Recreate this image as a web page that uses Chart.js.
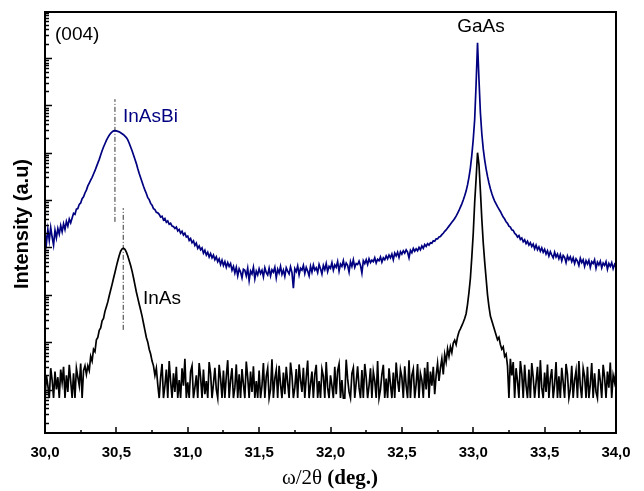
<!DOCTYPE html>
<html lang="en">
  <head>
    <meta charset="UTF-8" />
    <title>XRD (004) omega/2theta scans</title>
    <script src="https://cdn.jsdelivr.net/npm/chart.js"></script>
    <style>
      body { margin: 0; background: #fff; }
      #wrap { width: 644px; height: 491px; }
    </style>
  </head>
  <body>
    <div id="wrap"><canvas id="xrdChart" width="644" height="491"></canvas></div>
    <script>
      // scan grid: omega/2theta from 30.00 to 34.00 deg, 0.01 deg step
      const scanStart = 30.0;
      const scanStep = 0.01;

      // log10(intensity) of the InAs sample (black), one row per 0.1 deg
      const inAsLog = [
        0.82, 1.30, 1.08, 0.82, 1.45, 1.20, 0.82, 1.38, 1.00, 1.26, // 30.0
        0.82, 1.42, 1.15, 1.48, 0.82, 1.30, 0.95, 1.52, 1.18, 0.82,
        1.34, 0.82, 1.45, 1.26, 1.08, 1.55, 0.82, 1.40, 1.50, 1.32,
        1.50, 1.40, 1.70, 1.60, 1.85, 1.80, 2.05, 2.10, 2.25, 2.30,
        2.45, 2.50, 2.65, 2.75, 2.85, 2.98, 3.10, 3.22, 3.35, 3.47,
        3.60, 3.72, 3.83, 3.92, 3.97, 3.985, 3.96, 3.90, 3.82, 3.72, // 30.5
        3.62, 3.50, 3.36, 3.21, 3.06, 2.93, 2.80, 2.68, 2.55, 2.40,
        2.25, 2.10, 2.00, 1.85, 1.75, 1.60, 1.50, 1.30, 1.45, 1.10,
        0.82, 1.26, 1.54, 0.82, 1.08, 1.42, 0.82, 1.60, 1.18, 0.82,
        1.34, 0.95, 1.48, 0.82, 1.20, 0.82, 1.45, 1.08, 1.65, 0.82,
        1.15, 0.82, 1.38, 1.50, 0.82, 1.04, 1.30, 0.82, 1.56, 1.26, // 31.0
        0.82, 1.42, 0.90, 1.18, 0.82, 1.58, 1.34, 0.82, 1.12, 1.46,
        1.00, 0.82, 1.52, 1.23, 0.82, 1.40, 0.82, 1.28, 1.62, 0.82,
        1.20, 1.45, 0.82, 1.04, 1.53, 0.82, 1.32, 0.82, 1.43, 1.11,
        0.82, 1.59, 1.26, 0.82, 1.38, 0.95, 1.49, 0.82, 1.18, 0.82,
        1.40, 0.82, 1.08, 1.56, 0.82, 1.28, 1.45, 0.82, 1.00, 1.64, // 31.5
        0.82, 1.23, 1.41, 0.82, 1.50, 1.11, 0.82, 1.36, 0.90, 1.48,
        1.15, 0.82, 1.57, 1.30, 0.82, 1.04, 1.43, 0.82, 1.53, 1.20,
        0.95, 1.46, 0.82, 1.26, 1.61, 0.82, 1.11, 1.38, 0.82, 1.32,
        1.52, 0.82, 1.18, 0.82, 1.43, 1.28, 0.82, 1.58, 1.04, 0.82,
        1.30, 1.08, 0.82, 1.48, 0.90, 1.40, 1.54, 0.82, 1.20, 0.82, // 32.0
        0.82, 1.63, 1.23, 0.95, 0.82, 1.34, 1.46, 0.82, 1.15, 1.49,
        1.04, 0.82, 1.41, 0.82, 1.54, 1.26, 0.82, 1.08, 1.45, 0.82,
        1.38, 1.18, 0.82, 1.60, 0.82, 1.00, 1.32, 1.52, 0.82, 1.23,
        0.82, 1.45, 1.11, 0.82, 1.36, 0.82, 1.57, 1.20, 0.95, 1.42,
        1.26, 0.82, 1.49, 1.08, 0.82, 1.62, 0.82, 1.30, 1.43, 0.82, // 32.5
        1.11, 1.54, 0.82, 1.34, 1.20, 0.82, 1.46, 1.00, 1.58, 0.82,
        1.38, 1.08, 1.48, 0.90, 1.30, 1.55, 1.18, 1.45, 1.65, 1.32,
        1.74, 1.58, 1.86, 1.70, 1.90, 1.78, 1.98, 2.04, 1.95, 2.11,
        2.22, 2.28, 2.35, 2.42, 2.50, 2.60, 2.80, 3.05, 3.35, 3.80,
        4.30, 4.95, 5.45, 6.00, 5.75, 5.20, 4.60, 4.10, 3.70, 3.35, // 33.0
        3.00, 2.75, 2.55, 2.45, 2.35, 2.25, 2.15, 2.05, 2.10, 1.95,
        1.85, 1.90, 1.70, 1.75, 1.50, 0.82, 1.65, 1.30, 1.58, 0.82,
        1.45, 1.18, 0.82, 1.60, 1.34, 0.82, 1.52, 1.08, 0.82, 1.42,
        0.82, 1.56, 1.26, 0.82, 1.15, 1.48, 0.82, 1.62, 1.04, 0.82,
        1.36, 0.95, 1.53, 0.82, 1.23, 1.43, 0.82, 1.11, 1.58, 0.82, // 33.5
        1.28, 0.82, 1.46, 1.15, 0.82, 1.54, 1.32, 0.82, 1.00, 1.50,
        0.82, 1.20, 1.40, 0.82, 1.60, 1.08, 0.82, 1.45, 1.28, 0.82,
        1.48, 0.82, 1.11, 1.56, 0.82, 1.34, 0.95, 0.82, 1.43, 1.18,
        0.82, 1.52, 1.26, 0.82, 1.38, 1.04, 1.57, 0.82, 1.30, 1.15,
        1.41 // 34.0
      ];

      // log10(intensity) of the InAsBi sample (navy)
      const inAsBiLog = [
        4.30, 4.08, 4.38, 4.15, 4.42, 4.22, 4.05, 4.36, 4.20, 4.40, // 30.0
        4.28, 4.46, 4.33, 4.50, 4.38, 4.55, 4.45, 4.60, 4.52, 4.62,
        4.72, 4.70, 4.81, 4.82, 4.91, 4.94, 5.03, 5.07, 5.15, 5.21,
        5.30, 5.36, 5.42, 5.48, 5.55, 5.62, 5.70, 5.78, 5.86, 5.95,
        6.04, 6.12, 6.19, 6.26, 6.32, 6.37, 6.41, 6.44, 6.46, 6.465,
        6.46, 6.45, 6.44, 6.42, 6.40, 6.38, 6.35, 6.32, 6.27, 6.20, // 30.5
        6.12, 6.04, 5.95, 5.86, 5.77, 5.66, 5.56, 5.47, 5.38, 5.29,
        5.21, 5.14, 5.05, 5.01, 4.93, 4.89, 4.82, 4.80, 4.74, 4.73,
        4.70, 4.64, 4.66, 4.58, 4.61, 4.53, 4.56, 4.49, 4.51, 4.45,
        4.44, 4.40, 4.43, 4.35, 4.38, 4.30, 4.34, 4.26, 4.30, 4.22,
        4.24, 4.15, 4.19, 4.10, 4.14, 4.04, 4.09, 3.98, 4.03, 3.95, // 31.0
        3.99, 3.88, 3.94, 3.84, 3.90, 3.80, 3.87, 3.78, 3.84, 3.74,
        3.80, 3.70, 3.76, 3.64, 3.73, 3.62, 3.70, 3.58, 3.68, 3.60,
        3.66, 3.52, 3.60, 3.46, 3.58, 3.40, 3.55, 3.48, 3.36, 3.54,
        3.52, 3.40, 3.56, 3.30, 3.50, 3.44, 3.58, 3.34, 3.50, 3.42,
        3.55, 3.45, 3.52, 3.38, 3.57, 3.47, 3.42, 3.56, 3.40, 3.53, // 31.5
        3.48, 3.58, 3.36, 3.54, 3.46, 3.60, 3.43, 3.52, 3.39, 3.57,
        3.50, 3.44, 3.59, 3.47, 3.14, 3.55, 3.49, 3.61, 3.42, 3.56,
        3.52, 3.62, 3.45, 3.58, 3.50, 3.40, 3.60, 3.48, 3.63, 3.52,
        3.57, 3.47, 3.64, 3.55, 3.44, 3.62, 3.53, 3.66, 3.49, 3.60,
        3.56, 3.68, 3.52, 3.63, 3.58, 3.70, 3.50, 3.65, 3.60, 3.72, // 32.0
        3.57, 3.67, 3.62, 3.48, 3.70, 3.60, 3.74, 3.58, 3.66, 3.64,
        3.71, 3.62, 3.46, 3.72, 3.66, 3.74, 3.64, 3.76, 3.68, 3.73,
        3.70, 3.78, 3.67, 3.75, 3.72, 3.80, 3.69, 3.78, 3.74, 3.82,
        3.76, 3.84, 3.78, 3.86, 3.74, 3.88, 3.82, 3.90, 3.79, 3.91,
        3.86, 3.93, 3.88, 3.95, 3.90, 3.78, 3.94, 3.89, 3.98, 3.92, // 32.5
        3.97, 3.93, 4.00, 3.95, 4.03, 3.98, 4.06, 4.02, 4.08, 4.05,
        4.10, 4.09, 4.14, 4.13, 4.18, 4.18, 4.22, 4.23, 4.27, 4.30,
        4.34, 4.37, 4.41, 4.45, 4.49, 4.53, 4.57, 4.61, 4.66, 4.72,
        4.78, 4.85, 4.92, 5.00, 5.09, 5.19, 5.32, 5.48, 5.68, 5.95,
        6.28, 6.70, 7.45, 8.32, 7.55, 6.85, 6.40, 6.08, 5.85, 5.66, // 33.0
        5.50, 5.36, 5.24, 5.14, 5.05, 4.98, 4.92, 4.86, 4.81, 4.76,
        4.70, 4.64, 4.60, 4.54, 4.51, 4.45, 4.43, 4.37, 4.36, 4.30,
        4.27, 4.22, 4.25, 4.17, 4.20, 4.12, 4.16, 4.08, 4.13, 4.05,
        4.10, 4.02, 4.07, 3.97, 4.05, 3.95, 4.01, 3.92, 3.99, 3.90,
        3.96, 3.86, 3.93, 3.82, 3.91, 3.84, 3.78, 3.90, 3.80, 3.86, // 33.5
        3.76, 3.85, 3.72, 3.83, 3.79, 3.68, 3.82, 3.74, 3.80, 3.70,
        3.78, 3.66, 3.76, 3.71, 3.62, 3.77, 3.68, 3.74, 3.60, 3.72,
        3.65, 3.73, 3.58, 3.70, 3.66, 3.74, 3.56, 3.69, 3.63, 3.71,
        3.57, 3.67, 3.62, 3.70, 3.54, 3.66, 3.60, 3.68, 3.55, 3.64,
        3.58 // 34.0
      ];

      // peak markers (dash-dot): position in deg, log10 span
      const inAsBiMarkX = 30.49;
      const inAsBiMarkSpan = [4.54, 7.13];
      const inAsMarkX = 30.548;
      const inAsMarkSpan = [2.26, 4.83];

      const xTickLabels = ['30,0', '30,5', '31,0', '31,5', '32,0', '32,5', '33,0', '33,5', '34,0'];

      const navy = '#000080';

      function toPoints(logs) {
        return logs.map((v, i) => ({ x: scanStart + i * scanStep, y: Math.pow(10, v) }));
      }
      function markPoints(x, span) {
        return span.map((v) => ({ x: x, y: Math.pow(10, v) }));
      }

      const decorations = {
        id: 'decorations',
        afterDraw(chart) {
          const { ctx, chartArea: area, scales: { x, y } } = chart;
          ctx.save();
          ctx.strokeStyle = '#000';
          ctx.lineWidth = 1.5;

          // x ticks pointing inward
          for (let i = 0; i <= 16; i++) {
            const px = Math.round(x.getPixelForValue(30 + i * 0.25));
            const len = i % 2 === 0 ? 6 : 3;
            ctx.beginPath();
            ctx.moveTo(px, area.bottom);
            ctx.lineTo(px, area.bottom - len);
            ctx.stroke();
          }

          // log ticks on the left axis
          for (let n = 0; n <= 8; n++) {
            for (let k = 1; k <= 9; k++) {
              const v = k * Math.pow(10, n);
              if (v < y.min || v > y.max) continue;
              const py = Math.round(y.getPixelForValue(v)) + 0.5;
              const len = k === 1 ? 7 : 4;
              ctx.beginPath();
              ctx.moveTo(area.left, py);
              ctx.lineTo(area.left + len, py);
              ctx.stroke();
            }
          }

          ctx.lineWidth = 2;
          ctx.strokeRect(area.left, area.top, area.right - area.left, area.bottom - area.top);

          // labels inside the plot
          ctx.fillStyle = '#000';
          ctx.textBaseline = 'middle';
          ctx.font = '19px "Liberation Sans", Arial, sans-serif';
          ctx.textAlign = 'left';
          ctx.fillText('(004)', 55, 35);
          ctx.fillText('InAs', 143, 299);
          ctx.textAlign = 'center';
          ctx.fillText('GaAs', 481, 27);
          ctx.fillStyle = navy;
          ctx.textAlign = 'left';
          ctx.fillText('InAsBi', 123, 117);

          // y title
          ctx.fillStyle = '#000';
          ctx.save();
          ctx.translate(22, 224);
          ctx.rotate(-Math.PI / 2);
          ctx.textAlign = 'center';
          ctx.font = 'bold 20px "Liberation Sans", Arial, sans-serif';
          ctx.fillText('Intensity (a.u)', 0, 0);
          ctx.restore();

          // x title, mixed regular / bold serif
          const partA = '\u03c9/2\u03b8 ';
          const partB = '(deg.)';
          const fontA = '21px "Liberation Serif", "Times New Roman", serif';
          const fontB = 'bold 21px "Liberation Serif", "Times New Roman", serif';
          ctx.font = fontA;
          const wA = ctx.measureText(partA).width;
          ctx.font = fontB;
          const wB = ctx.measureText(partB).width;
          const startX = 330 - (wA + wB) / 2;
          ctx.textAlign = 'left';
          ctx.textBaseline = 'alphabetic';
          ctx.font = fontA;
          ctx.fillText(partA, startX, 484);
          ctx.font = fontB;
          ctx.fillText(partB, startX + wA, 484);
          ctx.restore();
        }
      };

      const ctx = document.getElementById('xrdChart').getContext('2d');
      new Chart(ctx, {
        type: 'line',
        data: {
          datasets: [
            {
              label: 'InAs',
              data: toPoints(inAsLog),
              borderColor: '#000',
              borderWidth: 1.7,
              pointRadius: 0,
              tension: 0
            },
            {
              label: 'InAsBi',
              data: toPoints(inAsBiLog),
              borderColor: navy,
              borderWidth: 1.7,
              pointRadius: 0,
              tension: 0
            },
            {
              label: 'InAsBi peak',
              data: markPoints(inAsBiMarkX, inAsBiMarkSpan),
              borderColor: '#333',
              borderWidth: 1,
              borderDash: [5, 2, 1, 2],
              pointRadius: 0
            },
            {
              label: 'InAs peak',
              data: markPoints(inAsMarkX, inAsMarkSpan),
              borderColor: '#333',
              borderWidth: 1,
              borderDash: [5, 2, 1, 2],
              pointRadius: 0
            }
          ]
        },
        options: {
          responsive: false,
          animation: false,
          layout: { padding: { top: 12, right: 28, left: 0, bottom: 0 } },
          plugins: { legend: { display: false }, tooltip: { enabled: false } },
          scales: {
            x: {
              type: 'linear',
              min: 30,
              max: 34,
              grid: { display: false, drawTicks: false },
              border: { display: false },
              afterFit: (scale) => { scale.height = 58; },
              ticks: {
                stepSize: 0.5,
                padding: 11,
                color: '#000',
                font: { family: '"Liberation Sans", Arial, sans-serif', size: 15, weight: 'bold' },
                callback: (value) => xTickLabels[Math.round((value - 30) / 0.5)]
              }
            },
            y: {
              type: 'logarithmic',
              min: Math.pow(10, 0.082),
              max: Math.pow(10, 8.971),
              grid: { display: false, drawTicks: false },
              border: { display: false },
              ticks: { display: false },
              afterFit: (scale) => { scale.width = 45; }
            }
          }
        },
        plugins: [decorations]
      });
    </script>
  </body>
</html>
